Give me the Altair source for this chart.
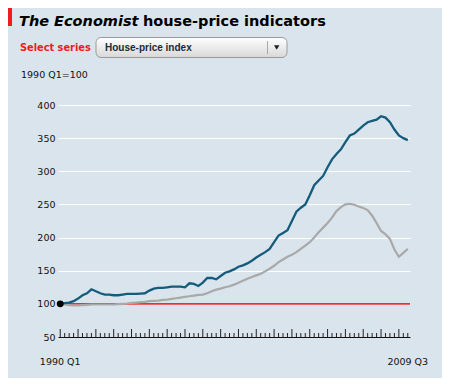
import altair as alt
import pandas as pd

# Quarter index 0 = 1990 Q1 ... 78 = 2009 Q3
blue_vals = [100, 101, 102, 104, 108, 113, 116, 122, 119, 116,
             114, 114, 113, 113, 114, 115, 115, 115, 115.5, 116,
             120, 123, 124, 124, 125, 126, 126, 126, 125, 131,
             130, 127, 132, 139, 139, 137, 142, 147, 149, 152,
             156, 158, 161, 165, 170, 174, 178, 183, 193, 203,
             207, 211, 225, 239, 245, 250, 264, 279, 286, 293,
             306, 318, 326, 333, 344, 354, 357, 363, 369, 374,
             376, 378, 383, 381, 374, 363, 354, 350, 347]
grey_vals = [100, 99, 98, 97.5, 97.5, 98, 98.5, 99, 99, 99,
             99, 99, 99, 99.5, 100, 100.5, 101.5, 102, 102.5, 103,
             104, 104.5, 105, 106, 106.5, 107.5, 108.5, 109.5, 110.5, 111.5,
             112.5, 113.5, 114, 116, 119, 121.5, 123, 125, 126.5, 129,
             132, 135, 138, 140.5, 143, 145.5, 149, 153, 157.5, 163,
             167, 171, 174, 178, 183, 188, 193, 200, 208, 215,
             222, 230, 240, 246, 250, 251, 249.5, 247, 244.5, 241.5,
             233, 222, 210, 205, 198, 182, 171, 177, 183]
y_ticks = [50, 100, 150, 200, 250, 300, 350, 400]
x_label_idx = [0, 78]
x_label_txt = ["1990 Q1", "2009 Q3"]
base_value = 100

BG = "#dae4ec"
BLUE = "#145b7c"
GREY = "#a9a9a9"
RED = "#e8302e"

W, H = 352, 232
quarters = list(range(len(blue_vals)))

df_blue = pd.DataFrame({"q": quarters, "v": blue_vals})
df_grey = pd.DataFrame({"q": quarters, "v": grey_vals})
df_ticks = pd.DataFrame({"q": quarters})
df_year = df_ticks[df_ticks.q % 4 == 0]
df_qtr = df_ticks[df_ticks.q % 4 != 0]
df_lab = pd.DataFrame({"q": x_label_idx, "t": x_label_txt})
df_dot = pd.DataFrame({"q": [0], "v": [base_value]})
df_base = pd.DataFrame({"v": [base_value]})

xs = alt.Scale(domain=[-0.5, 78.5], nice=False, zero=False)
ys = alt.Scale(domain=[50, 400], nice=False, zero=False)

xaxis = alt.Axis(title=None, labels=False, ticks=False, grid=False,
                 domain=True, domainColor="#111111", domainWidth=1, zindex=1)
yaxis = alt.Axis(title=None, values=y_ticks, ticks=False, domain=False,
                 grid=True, gridColor="#ffffff", gridWidth=1.2,
                 labelOverlap=False, labelBound=False,
                 labelFont="DejaVu Sans", labelFontSize=9.5,
                 labelColor="#111111", labelPadding=3)
xenc = alt.X("q:Q", scale=xs, axis=xaxis)
yenc = alt.Y("v:Q", scale=ys, axis=yaxis)

red_rule = alt.Chart(df_base).mark_rule(color=RED, strokeWidth=1.6).encode(y=yenc)
grey = alt.Chart(df_grey).mark_line(color=GREY, strokeWidth=2.2).encode(x=xenc, y=yenc)
blue = alt.Chart(df_blue).mark_line(color=BLUE, strokeWidth=2.3).encode(x=xenc, y=yenc)
dot = alt.Chart(df_dot).mark_circle(color="#000000", size=48, opacity=1).encode(
    x=xenc, y=yenc)

year_ticks = alt.Chart(df_year).mark_rule(color="#222222", strokeWidth=1).encode(
    x=xenc, y=alt.value(H), y2=alt.value(H - 8))
qtr_ticks = alt.Chart(df_qtr).mark_rule(color="#222222", strokeWidth=1).encode(
    x=xenc, y=alt.value(H), y2=alt.value(H - 4))

x_labels = alt.Chart(df_lab).mark_text(
    font="DejaVu Sans", fontSize=9.5, color="#111111", align="center",
    baseline="alphabetic").encode(x=xenc, y=alt.value(H + 28), text="t:N")

one = pd.DataFrame({"a": [0]})


def label(txt, x, y, **kw):
    return alt.Chart(one).mark_text(align="left", baseline="alphabetic", **kw).encode(
        x=alt.value(x), y=alt.value(y), text=alt.value(txt))


red_bar = alt.Chart(one).mark_rect(color="#ee1c1c").encode(
    x=alt.value(-50), x2=alt.value(-46), y=alt.value(-97), y2=alt.value(-79))
title1 = label("The Economist", -39, -79, font="DejaVu Sans", fontSize=14.5,
               fontWeight="bold", fontStyle="italic", color="#000000")
title2 = label("house-price indicators", 85, -79, font="DejaVu Sans", fontSize=14.5,
               fontWeight="bold", color="#000000")
select = label("Select series", -38, -54, font="DejaVu Sans", fontSize=9.8,
               fontWeight="bold", color="#ee1c1c")
box = alt.Chart(one).mark_rect(
    cornerRadius=5, stroke="#9a9a9a", strokeWidth=1,
    fill=alt.LinearGradient(gradient="linear",
                            stops=[alt.GradientStop(offset=0, color="#ffffff"),
                                   alt.GradientStop(offset=1, color="#d8d8d8")],
                            x1=0, x2=0, y1=0, y2=1)).encode(
    x=alt.value(38), x2=alt.value(229), y=alt.value(-67.5), y2=alt.value(-47.5))
box_text = label("House-price index", 47, -54.5, font="Liberation Sans", fontSize=10,
                 fontWeight="bold", color="#1a2a3a")
divider = alt.Chart(one).mark_rule(color="#a8a8a8", strokeWidth=1).encode(
    x=alt.value(209.5), y=alt.value(-64), y2=alt.value(-51))
arrow = alt.Chart(one).mark_point(shape="triangle-down", filled=True, size=30,
                                  color="#222222", opacity=1).encode(
    x=alt.value(218.7), y=alt.value(-57.5))
unit = label("1990 Q1=100", -37, -27.5, font="DejaVu Sans", fontSize=9.5,
             color="#111111")

chart = alt.layer(
    red_rule, grey, blue, dot, year_ticks, qtr_ticks, x_labels,
    red_bar, title1, title2, select, box, box_text, divider, arrow, unit
).properties(
    width=W, height=H,
    padding={"left": 50, "top": 97, "right": 32, "bottom": 41},
    autosize=alt.AutoSizeParams(type="none"),
    background=BG,
).configure_view(stroke=None)

chart.save("out.html", embed_options={"renderer": "svg", "actions": False})
